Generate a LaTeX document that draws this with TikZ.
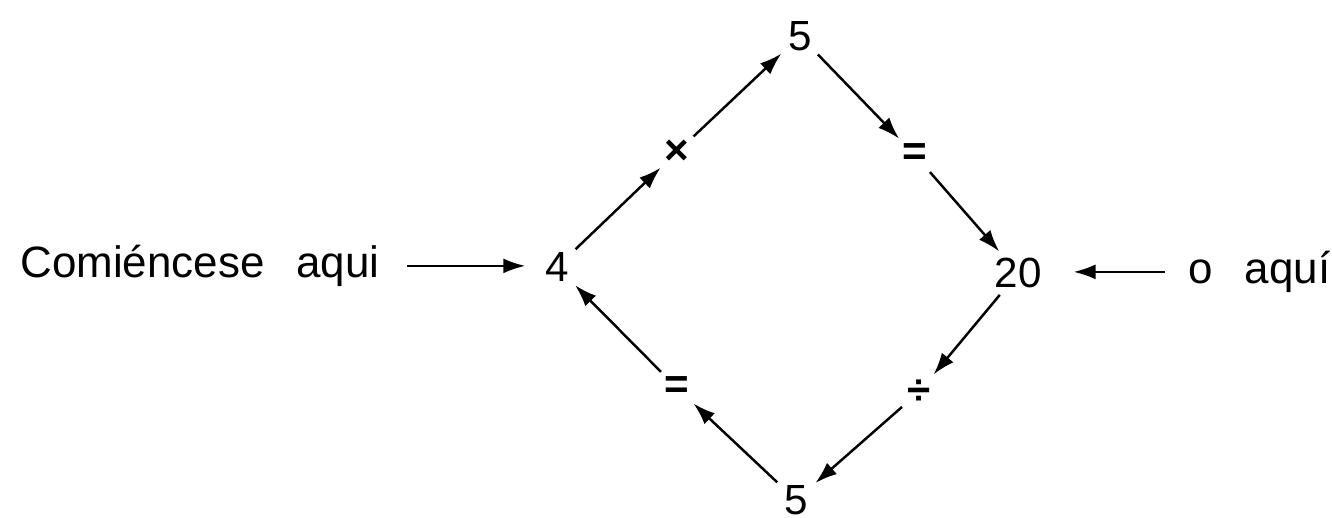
\documentclass[tikz,border=0pt]{standalone}
\usepackage{fontspec}
\setmainfont{Liberation Sans}
\newfontfamily\lblfont{Liberation Sans}[WordSpace=2.6]
\usetikzlibrary{arrows.meta, positioning}

\tikzset{
  num/.style={circle, minimum size=5mm, inner sep=0pt, font=\fontsize{12}{14}\selectfont},
  op/.style={circle, minimum size=4.4mm, inner sep=0pt, font=\fontsize{12}{14}\selectfont\bfseries},
  lbl/.style={inner sep=0pt, font=\lblfont\fontsize{12.5}{14}\selectfont},
  flow/.style={-{Latex[length=2.2mm,width=1.5mm]}, line width=0.7pt},
}

\begin{document}
\begin{tikzpicture}
  \useasboundingbox (0,0) rectangle (13.32,-5.18);

  % --- the four numbers ---
  \node[num] (four)   at (5.57,-2.67) {4};
  \node[num] (fivetop) at (8.00,-0.36) {5};
  \node[num] (twenty) at (10.18,-2.73) {20};
  \node[num] (fivebot) at (7.96,-5.00) {5};

  % --- operations on the sides ---
  \node[op] (times) at (6.77,-1.52) {×};
  \node[op] (eqtop) at (9.15,-1.55) {=};
  \node[op] (divs)  at (9.19,-3.92) {÷};
  \node[op] (eqbot) at (6.77,-3.88) {=};

  % --- entry labels ---
  \node[lbl, anchor=base east] (startlbl) at ([xshift=-1.77cm,yshift=0.04cm]four.base) {Comiéncese aqui};
  \node[lbl, anchor=base west] (altlbl) at ([xshift=1.70cm,yshift=0.04cm]twenty.base) {o aquí};

  % --- the cycle ---
  \draw[flow] (four) -- (times);
  \draw[flow] (times) -- (fivetop);
  \draw[flow] (fivetop) -- (eqtop);
  \draw[flow] (eqtop) -- (twenty);
  \draw[flow] (twenty) -- (divs);
  \draw[flow] (divs) -- (fivebot);
  \draw[flow] (fivebot) -- (eqbot);
  \draw[flow] (eqbot) -- (four);

  % --- where to begin ---
  \draw[flow, shorten <=2.7mm, shorten >=0.6mm] (startlbl) -- (startlbl -| four.west);
  \draw[flow, shorten <=2.3mm, shorten >=2.7mm] (altlbl) -- (altlbl -| twenty.east);
\end{tikzpicture}
\end{document}
